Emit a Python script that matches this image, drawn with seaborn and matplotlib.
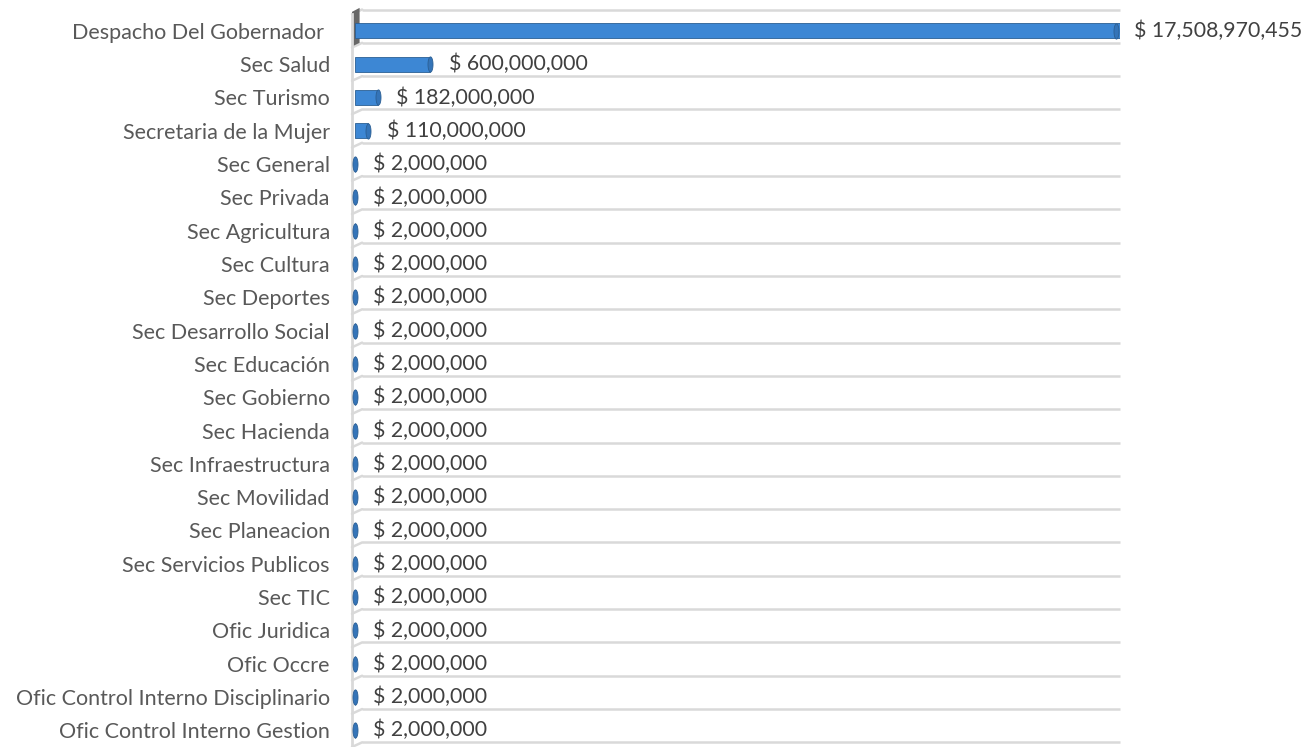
#!/usr/bin/env python3

import matplotlib
matplotlib.use("Agg")
import matplotlib.pyplot as plt
import seaborn as sns
import pandas as pd
import numpy as np

dependencias = [
  "Despacho Del Gobernador ",
  "Sec Salud",
  "Sec Turismo",
  "Secretaria de la Mujer",
  "Sec General",
  "Sec Privada",
  "Sec Agricultura",
  "Sec Cultura",
  "Sec Deportes",
  "Sec Desarrollo Social",
  "Sec Educación",
  "Sec Gobierno",
  "Sec Hacienda",
  "Sec Infraestructura",
  "Sec Movilidad",
  "Sec Planeacion",
  "Sec Servicios Publicos",
  "Sec TIC",
  "Ofic Juridica",
  "Ofic Occre",
  "Ofic Control Interno Disciplinario",
  "Ofic Control Interno Gestion",
]

montos = [
  17508970455, 600000000, 182000000, 110000000,
  2000000, 2000000, 2000000, 2000000, 2000000, 2000000,
  2000000, 2000000, 2000000, 2000000, 2000000, 2000000,
  2000000, 2000000, 2000000, 2000000, 2000000, 2000000,
]

BLUE = "#3d87d4"
BLUE_DARK = "#2b5f94"
GRID = "#d9d9d9"

# the chart axis stops well short of the largest value, that bar is cut off
X_MIN = -0.02e9
X_MAX = 6.05e9
BAR_CUT = 6.02e9


def configure_seaborn():
  ''' stylistic configuration of seaborn '''
  sns.set_style("white")
  # set the font after set_style, which resets font.family
  plt.rcParams['font.family'] = ['Lato', 'DejaVu Sans']


def ellipse_marker():
  t = np.linspace(0, 2 * np.pi, 48)
  return list(zip(0.33 * np.cos(t), np.sin(t)))


def plot_montos(df):
  fig = plt.figure(figsize=(13.15, 7.47), dpi=100)
  ax = fig.add_axes([352 / 1315, 0, 768 / 1315, 0.981])

  n = len(df)
  shown = np.minimum(df["monto"].to_numpy(), BAR_CUT)

  # back wall lines between the categories, with the little 3D bend at the wall
  lines_y = np.arange(-1, n) + 0.36
  ax.hlines(lines_y, 0.06e9, X_MAX, color=GRID, lw=1.8, zorder=0, clip_on=False)
  for yl in lines_y:
    ax.plot([X_MIN, 0.06e9], [yl + 0.14, yl], color=GRID, lw=1.8, zorder=0,
            clip_on=False)

  # dark side face next to the cut off bar
  ax.fill([X_MIN, 0.04e9, 0.04e9, X_MIN], [-0.57, -0.69, 0.36, 0.47],
          color="#676767", lw=0, zorder=0.5, clip_on=False)

  sns.barplot(data=df, x="monto", y="dependencia", orient="h", color=BLUE,
              saturation=1, width=0.45, edgecolor=BLUE_DARK, linewidth=0.6, ax=ax)
  for bar in ax.patches:
    bar.set_zorder(2)

  # rounded (cylinder) end of every bar
  ax.scatter(shown, np.arange(n), marker=ellipse_marker(), s=120,
             facecolor="#3474b8", edgecolor=BLUE_DARK, linewidth=0.6, zorder=3,
             clip_on=False)

  for i, v in enumerate(df["monto"]):
    ax.annotate(f"$ {v:,.0f}", xy=(shown[i], i), xytext=(13, 0),
                textcoords="offset points", va="center", ha="left",
                color="#404040", fontsize=15.3, annotation_clip=False)

  ax.set_xlim(X_MIN, X_MAX)
  ax.set_ylim(n - 0.5, -0.5)
  ax.set_xlabel("")
  ax.set_ylabel("")
  ax.set_xticks([])
  ax.tick_params(axis="y", length=0, pad=16, labelsize=15.5, labelcolor="#595959")

  for side in ["top", "right", "bottom"]:
    ax.spines[side].set_visible(False)
  ax.spines["left"].set_color(GRID)
  ax.spines["left"].set_linewidth(2)

  fig.savefig("out.png", dpi=100)
  plt.close(fig)


def main():
  configure_seaborn()
  df = pd.DataFrame({"dependencia": dependencias, "monto": montos})
  plot_montos(df)


if __name__ == '__main__':
    main()
